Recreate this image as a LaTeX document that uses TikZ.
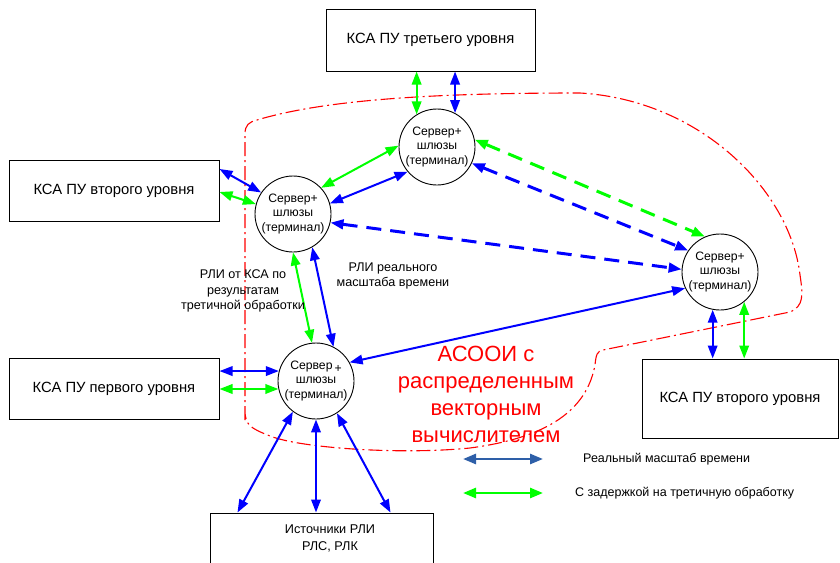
\documentclass[tikz,border=0pt]{standalone}
\usepackage{fontspec}
\setmainfont{Liberation Sans}
\usetikzlibrary{arrows.meta}
\definecolor{lnblue}{RGB}{0,0,255}
\definecolor{lngreen}{RGB}{0,255,0}
\definecolor{legblue}{RGB}{46,95,168}
\definecolor{zonered}{RGB}{255,0,0}

\begin{document}
\begin{tikzpicture}[x=1pt,y=-1pt,
  dbl/.style={{Triangle[length=13pt,width=9.5pt]}-{Triangle[length=13pt,width=9.5pt]}, line width=2pt},
  rt/.style={dbl, draw=lnblue},
  dl/.style={dbl, draw=lngreen},
  rtdash/.style={rt, line width=3pt, dash pattern=on 15pt off 9pt},
  dldash/.style={dl, line width=3pt, dash pattern=on 15pt off 9pt},
  legarrow/.style={{Triangle[length=13pt,width=10pt]}-{Triangle[length=13pt,width=10pt]}, line width=2.6pt},
  kbox/.style={draw, line width=1pt, inner sep=0pt, font=\fontsize{14.8}{17}\selectfont},
  srv/.style={circle, draw, line width=0.9pt, minimum size=76pt, inner sep=0pt,
    align=center, font=\fontsize{12.2}{14.5}\selectfont},
  lbl/.style={align=center, inner sep=0pt, font=\fontsize{12.6}{15.5}\selectfont},
  leglbl/.style={anchor=west, inner sep=0pt, font=\fontsize{12.5}{14}\selectfont},
  zone/.style={draw=zonered, line width=1.1pt, dash pattern=on 14pt off 4pt on 2pt off 4pt}
]
\useasboundingbox (0,0) rectangle (840,562);

% boundary of the distributed system
\draw[zone] (245,420) -- (245,134)
  .. controls (245,125) and (249,122) .. (257,120)
  .. controls (330,98) and (450,93) .. (580,93)
  .. controls (700,100) and (790,190) .. (800,275)
  .. controls (803,295) and (804,306) .. (790,312)
  -- (603,350)
  .. controls (597,351) and (596,355) .. (595,365)
  .. controls (585,420) and (530,440) .. (470,448)
  .. controls (400,455) and (300,448) .. (270,436)
  .. controls (250,428) and (245,425) .. (245,410) -- cycle;

% control centres
\node[kbox, minimum width=209pt, minimum height=62pt] (tb) at (430.5,40) {КСА ПУ третьего уровня};
\node[kbox, minimum width=210pt, minimum height=61pt] (b1) at (114,190.5) {КСА ПУ второго уровня};
\node[kbox, minimum width=210pt, minimum height=61pt] (b2) at (114,388.5) {КСА ПУ первого уровня};
\node[kbox, minimum width=196pt, minimum height=79pt] (bR) at (740,398.5) {КСА ПУ второго уровня};
\node[kbox, minimum width=223pt, minimum height=56pt] (src) at (321.5,541) {};
\node[lbl, font=\fontsize{12.7}{17}\selectfont] (srctext) at (330,538) {Источники РЛИ\\РЛС, РЛК};

% servers
\node[srv] (T) at (437,147) {Сервер+\\шлюзы\\(терминал)};
\node[srv] (L) at (293,214) {Сервер+\\шлюзы\\(терминал)};
\node[srv] (B) at (316,381) {Сервер\,\raisebox{-3.5pt}{+}\\шлюзы\\(терминал)};
\node[srv] (R) at (720,272) {Сервер+\\шлюзы\\(терминал)};

% links to the upper level
\draw[dl] (T.122) -- (T.122 |- tb.south);
\draw[rt] (T.62) -- (T.62 |- tb.south);

% links to the second level (left)
\draw[rt] ([yshift=21.5pt]b1.east) -- (L.146);
\draw[dl] ([yshift=-1.5pt]b1.east) -- (L.165);

% links between servers
\draw[dl] (L.43) -- (T.178);
\draw[rt] (L.16) -- (T.220);
\draw[dldash] (T.11) -- (R.113);
\draw[rtdash] (T.-25) -- (R.146);
\draw[rtdash] (L.-13) -- (R.176);
\draw[dl] (L.south) -- (B.96);
\draw[rt] (L.-60) -- (B.63);
\draw[rt] (B.29) -- (R.205);

% links to the first level
\draw[rt] (b2.east |- B.165) -- (B.165);
\draw[dl] (b2.east |- B.192) -- (B.192);

% links to the second level (right)
\draw[rt] (R.259) -- (R.259 |- bR.north);
\draw[dl] (R.309) -- (R.309 |- bR.north);

% links to the sources
\draw[rt] (B.233) -- ([xshift=28pt]src.north west);
\draw[rt] (B.south) -- (B.south |- src.north);
\draw[rt] (B.-57) -- ([xshift=181pt]src.north west);

% captions
\node[lbl] (cap1) at (243,291) {РЛИ от КСА по\\результатам\\третичной обработки};
\node[lbl, font=\fontsize{12.6}{14.5}\selectfont] (cap2) at (393,276) {РЛИ реального\\масштаба времени};
\node[lbl, text=zonered, font=\fontsize{22}{27}\selectfont] (zonename) at (486,394) {АСООИ с\\распределенным\\векторным\\вычислителем};

% legend
\coordinate (lga) at (463,459);
\coordinate (lgb) at (543,459);
\coordinate (lgc) at (463,493);
\coordinate (lgd) at (543,493);
\draw[legarrow, draw=legblue] (lga) -- (lgb);
\draw[legarrow, draw=lngreen] (lgc) -- (lgd);
\node[leglbl] (lgt1) at (583,459) {Реальный масштаб времени};
\node[leglbl] (lgt2) at (575,493) {С задержкой на третичную обработку};
\end{tikzpicture}
\end{document}
